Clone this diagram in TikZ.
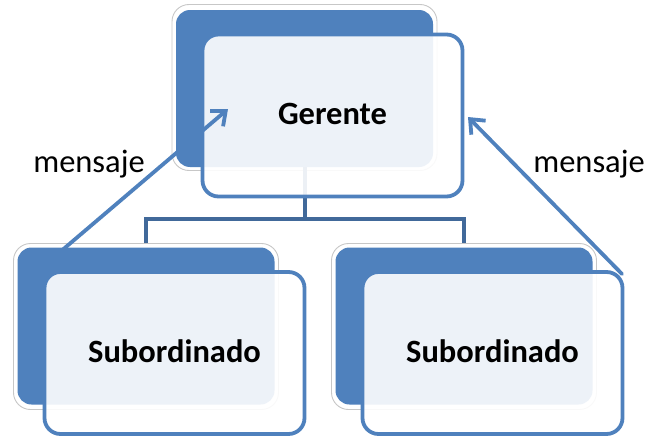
\documentclass[tikz,border=0pt]{standalone}
\usepackage{fontspec}
\setmainfont{Carlito}
\usetikzlibrary{arrows.meta}
\definecolor{ofblue}{HTML}{4F81BD}
\definecolor{condark}{HTML}{41699A}
\begin{document}
\begin{tikzpicture}[x=1pt,y=-1pt,
  backgrey/.style={rectangle, rounded corners=17pt, draw=black!22, line width=0.9pt, fill=white,
    minimum width=265pt, minimum height=166pt, inner sep=0pt},
  backblue/.style={rectangle, rounded corners=14pt, fill=ofblue,
    minimum width=257pt, minimum height=157pt, inner sep=0pt},
  frontbox/.style={rectangle, rounded corners=16pt, draw=ofblue, line width=3.8pt,
    fill=white, fill opacity=0.9, text opacity=1,
    minimum width=260pt, minimum height=162pt, inner sep=0pt,
    text height=23pt, text depth=5pt,
    font=\bfseries\fontsize{32.5}{38}\selectfont},
  conn/.style={draw=condark, line width=4pt},
  msg/.style={draw=ofblue, line width=3.8pt, line cap=round, line join=round,
    -{Straight Barb[length=12pt,width=20pt]}},
  lbl/.style={font=\fontsize{32.5}{38}\selectfont, inner sep=0pt, anchor=base}]
\useasboundingbox (0,0) rectangle (645,439);
% back plates
\node[backgrey] (tg) at (304.5,87.5) {};
\node[backblue] (tb) at (304.5,88.5) {};
\node[backgrey] (lg) at (146,326.5) {};
\node[backblue] (lb) at (146,326) {};
\node[backgrey] (rg) at (464,326.5) {};
\node[backblue] (rb) at (464,326) {};
% hierarchy connector
\draw[conn] (tb.south) -- ++(0,52) coordinate (hub);
\draw[conn] (lg.north) |- (hub) -| (rg.north);
% front boxes
\node[frontbox] (tf) at (332.5,115.5) {Gerente};
\node[frontbox] (lf) at (174.5,353) {Subordinado};
\node[frontbox] (rf) at (492.5,353) {Subordinado};
% message arrows
\coordinate (a1s) at (33,275);
\coordinate (a1e) at (228,109);
\coordinate (a2s) at (622,274);
\coordinate (a2e) at (468,117);
\draw[msg] (a1s) -- (a1e);
\draw[msg] (a2s) -- (a2e);
% labels
\node[lbl] (m1) at (89,172) {mensaje};
\node[lbl] (m2) at (589,172) {mensaje};
\end{tikzpicture}
\end{document}
